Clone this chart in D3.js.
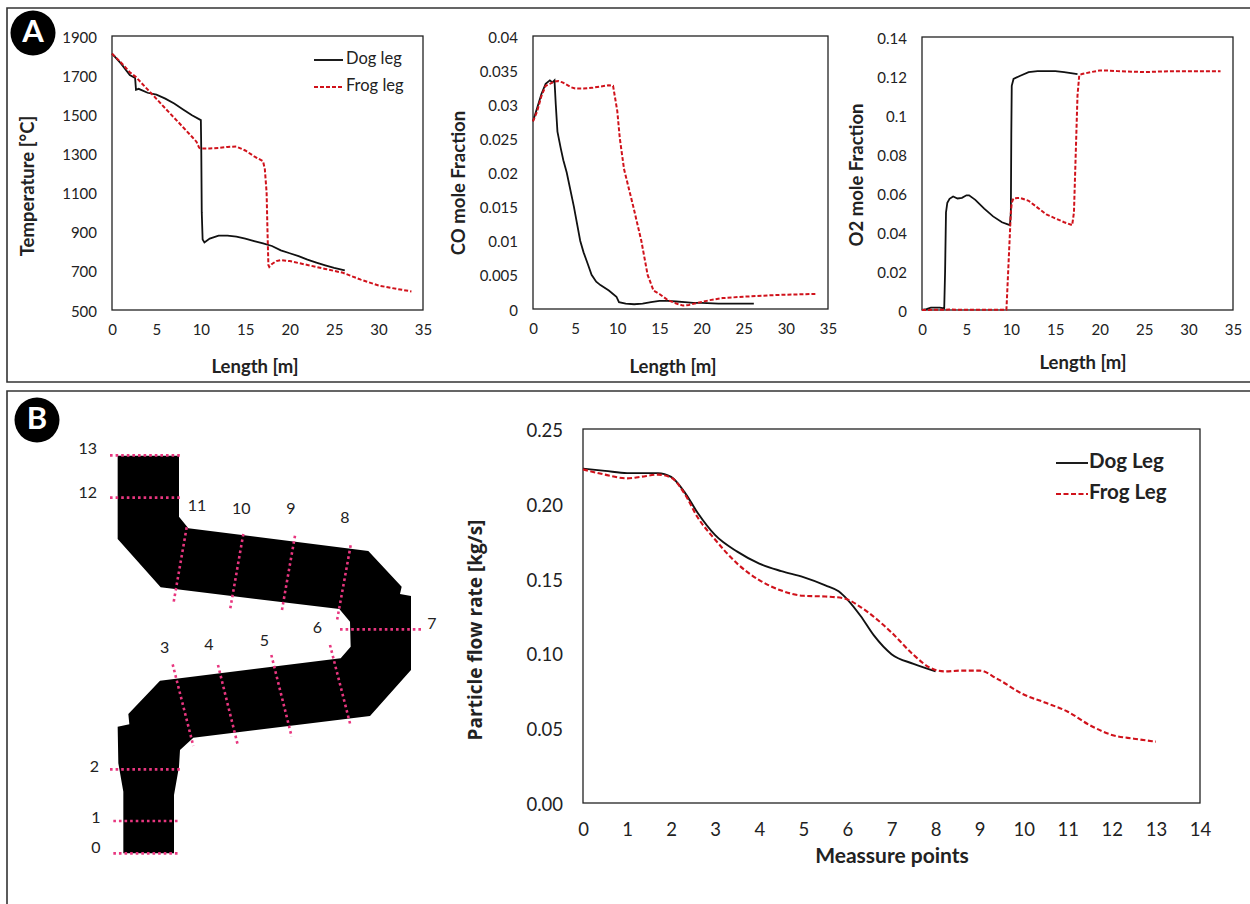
<!DOCTYPE html>
<html><head><meta charset="utf-8">
<script src="https://cdn.jsdelivr.net/npm/d3@7"></script>
<style>html,body{margin:0;padding:0;background:#fff}svg{display:block}text{font-family:Lato,sans-serif;fill:#222}</style>
</head><body><div id="c"></div>
<script>
// ---------- data ----------
const tempDog=[[0,1810],[1,1760],[2,1700],[2.6,1685],[2.7,1625],[3,1630],[4,1610],[5,1600],[6,1580],[7,1555],[8,1525],[9,1495],[10,1470],[10.05,1300],[10.1,1000],[10.2,860],[10.4,845],[11,865],[12,880],[13,880],[14,875],[15,865],[16,852],[17,840],[18,827],[19,805],[20,790],[21,775],[22,757],[23,742],[24,728],[25,715],[26.2,703]];
const tempFrog=[[0,1810],[1,1765],[2,1715],[2.7,1690],[4,1627],[5,1579],[6,1530],[7,1482],[8,1434],[9,1385],[9.5,1360],[9.8,1330],[10,1325],[11,1325],[12,1328],[13,1333],[14,1335],[15,1315],[16,1285],[17,1260],[17.2,1220],[17.4,1100],[17.5,900],[17.6,730],[17.7,720],[18,735],[18.5,750],[19,755],[20,750],[22,730],[24,710],[26,690],[28,655],[30,625],[32,608],[33.7,595]];
const coDog=[[0,.0275],[.5,.0295],[1,.0315],[1.5,.033],[2,.0335],[2.3,.0332],[2.55,.0335],[2.7,.03],[2.9,.026],[3.3,.0235],[3.6,.0218],[4,.02],[4.85,.015],[5.6,.01],[6,.0083],[6.5,.0066],[6.95,.005],[7.5,.004],[8,.0035],[9,.0027],[9.9,.0018],[10.2,.001],[11,.0008],[12,.0007],[13,.0008],[14,.001],[15,.0012],[16,.0012],[17,.0011],[18,.001],[19,.0009],[20,.0009],[22,.0008],[24,.0008],[26.2,.0008]];
const coFrog=[[0,.0275],[.5,.029],[1,.0312],[1.5,.0327],[2,.033],[2.5,.0333],[3,.0334],[3.5,.0332],[4.5,.0325],[5,.0323],[6,.0323],[7,.0324],[8,.0326],[9,.0328],[9.5,.0327],[10,.029],[10.3,.025],[10.8,.0205],[11.9,.015],[12.85,.01],[13.6,.005],[14.3,.0027],[15,.0022],[16,.0013],[17,.0008],[17.8,.0005],[18.5,.0006],[19.5,.0009],[21,.0013],[22.5,.0016],[25,.0018],[28,.002],[30,.0021],[33.5,.0022]];
const o2Dog=[[0,0],[.5,.0005],[1,.0012],[2,.0012],[2.5,.0008],[2.6,.02],[2.7,.05],[2.85,.055],[3.1,.057],[3.5,.0582],[4,.0572],[4.5,.0575],[5,.0588],[5.3,.0588],[6,.0565],[7,.052],[8,.048],[9,.045],[9.9,.0435],[10,.05],[10.05,.09],[10.1,.115],[10.3,.1185],[11,.12],[12,.122],[13,.1225],[15,.1225],[16,.122],[17.5,.121]];
const o2Frog=[[0,0],[3,.0002],[9.5,.0001],[9.6,.01],[9.8,.03],[10,.05],[10.1,.055],[10.3,.0573],[11,.0575],[12,.056],[13,.0525],[14,.049],[15,.047],[16,.045],[16.9,.0435],[17.1,.05],[17.3,.08],[17.5,.11],[17.7,.1205],[18,.121],[19,.122],[20,.1228],[21,.1228],[22,.1225],[25,.122],[28,.1225],[33.6,.1225]];
const flowDog=[[0,.2235],[.5,.222],[1,.2205],[1.7,.2205],[2,.218],[2.3,.208],[2.6,.194],[3,.179],[3.5,.168],[4,.16],[4.5,.155],[5,.151],[5.5,.1455],[5.8,.1415],[6,.136],[6.3,.125],[6.6,.112],[7,.0995],[7.5,.093],[8,.088]];
const flowFrog=[[0,.223],[.5,.2195],[1,.217],[1.3,.218],[1.7,.2195],[2,.2175],[2.3,.207],[2.6,.191],[3,.176],[3.5,.16],[4,.149],[4.5,.142],[5,.1385],[5.5,.138],[5.9,.137],[6.3,.131],[6.7,.122],[7,.114],[7.5,.099],[7.9,.09],[8.2,.088],[8.6,.0885],[9,.0885],[9.4,.083],[10,.0725],[10.5,.067],[11,.061],[11.5,.052],[12,.0455],[12.5,.043],[13,.041]];
const lengthTicks=[0,5,10,15,20,25,30,35];
const tempTicks=[500,700,900,1100,1300,1500,1700,1900];
const coTicks=[0,.005,.01,.015,.02,.025,.03,.035,.04];
const o2Ticks=[0,.02,.04,.06,.08,.1,.12,.14];
const flowTicks=[0,.05,.1,.15,.2,.25];
const pointTicks=d3.range(0,15);
const ductOutline=[[353,197],[537,197],[537,380],[565,415],[1105,483],[1205,590],[1200,612],[1233,618],[1233,840],[1110,978],[580,1043],[540,1080],[537,1130],[522,1215],[522,1390],[370,1390],[370,1205],[355,1120],[353,1010],[388,1003],[385,972],[480,872],[1022,805],[1052,770],[1050,695],[1018,657],[482,592],[353,447]];
const sectionLines=[[340,1390,540,1390],[340,1293,540,1293],[330,1138,545,1138],[518,823,580,1068],[654,825,714,1068],[814,795,875,1040],[990,765,1052,1008],[1020,718,1270,718],[1052,466,1010,697],[885,437,845,665],[730,432,690,660],[560,412,520,642],[330,323,545,323],[330,196,545,196]];
const sectionLabels=[["0",288,1377],["1",288,1286],["2",283,1134],["3",494,778],["4",627,767],["5",793,755],["6",952,716],["7",1296,705],["8",1035,388],["9",873,359],["10",724,359],["11",591,351],["12",263,313],["13",263,180]];

// ---------- drawing ----------
const RED="#d0121b",BLK="#111";
const svg=d3.select("#c").append("svg").attr("width",1250).attr("height",904);
svg.append("path").attr("d","M1250,8H7V382H1250").attr("fill","none").attr("stroke","#333").attr("stroke-width",1.6);
svg.append("path").attr("d","M1250,391H7V904").attr("fill","none").attr("stroke","#333").attr("stroke-width",1.6);
[["A",33,33],["B",37,420]].forEach(([t,x,y])=>{
  svg.append("circle").attr("cx",x).attr("cy",y).attr("r",22.5).attr("fill","#000");
  svg.append("text").attr("x",x).attr("y",y+1).attr("text-anchor","middle").attr("dominant-baseline","middle")
    .attr("font-size",31).attr("font-weight",700).style("fill","#fff").text(t);
});

function panel(o){
  const x=d3.scaleLinear().domain(o.xd).range([o.l,o.r]);
  const y=d3.scaleLinear().domain(o.yd).range([o.b,o.t]);
  const g=svg.append("g");
  g.append("rect").attr("x",o.l).attr("y",o.t).attr("width",o.r-o.l).attr("height",o.b-o.t)
    .attr("fill","none").attr("stroke","#222").attr("stroke-width",1.3);
  const ax=g.append("g").attr("transform",`translate(0,${o.b})`)
    .call(d3.axisBottom(x).tickValues(o.xt).tickSize(0).tickPadding(o.xp).tickFormat(d3.format("d")));
  const ay=g.append("g").attr("transform",`translate(${o.l},0)`)
    .call(d3.axisLeft(y).tickValues(o.yt).tickSize(0).tickPadding(o.yp).tickFormat(o.yf));
  [ax,ay].forEach(a=>{a.select(".domain").remove();a.selectAll("text").attr("font-size",o.fs).style("font-family","Lato,sans-serif");});
  ay.selectAll("text").attr("dy","0.4em");
  const line=d3.line().x(d=>x(d[0])).y(d=>y(d[1])).curve(o.curve||d3.curveLinear);
  g.append("path").datum(o.dog).attr("d",line).attr("fill","none").attr("stroke",BLK).attr("stroke-width",o.lw);
  g.append("path").datum(o.frog).attr("d",line).attr("fill","none").attr("stroke",RED).attr("stroke-width",o.lw+.2).attr("stroke-dasharray",o.dash);
  const title=(t,px,py,rot,fs,ff)=>svg.append("text").attr("transform",`translate(${px},${py})${rot?" rotate(-90)":""}`)
    .attr("text-anchor","middle").attr("dominant-baseline","middle").attr("font-size",fs).attr("font-weight",700).style("font-family",ff||null).text(t);
  title(o.xl[0],o.xl[1],o.xl[2],false,o.xfs);
  title(o.yl[0],o.yl[1],o.yl[2],true,o.yfs,o.yff);
}
const plain=d=>String(+d.toFixed(3));
const aStyle={fs:15,xp:14,yp:15,lw:1.8,dash:"4,2",xfs:18.5,yfs:18.5};
panel({...aStyle,l:112,r:423,t:36,b:310,xd:[0,35],yd:[500,1900],xt:lengthTicks,yt:tempTicks,yf:d3.format("d"),dog:tempDog,frog:tempFrog,xl:["Length [m]",255,368],yl:["Temperature [°C]",29,186]});
panel({...aStyle,l:533,r:828,t:36,b:309,xd:[0,35],yd:[0,.04],xt:lengthTicks,yt:coTicks,yf:plain,dog:coDog,frog:coFrog,xl:["Length [m]",673,368],yl:["CO mole Fraction",460,183]});
panel({...aStyle,l:922,r:1233,t:37,b:310,xd:[0,35],yd:[0,.14],xt:lengthTicks,yt:o2Ticks,yf:plain,dog:o2Dog,frog:o2Frog,xl:["Length [m]",1083,364],yl:["O2 mole Fraction",858,175]});
panel({l:583,r:1200,t:429,b:803,xd:[0,14],yd:[0,.25],xt:pointTicks,yt:flowTicks,yf:d3.format(".2f"),dog:flowDog,frog:flowFrog,curve:d3.curveMonotoneX,fs:18.5,xp:20,yp:20,lw:1.9,dash:"5,2.5",xfs:21,yfs:19,yff:"Open Sans",xl:["Meassure points",892,858],yl:["Particle flow rate [kg/s]",477,630]});

function legend(items,x1,x2,tx,fs,dash,w){
  items.forEach(([t,c,yy,d])=>{
    svg.append("line").attr("x1",x1).attr("x2",x2).attr("y1",yy).attr("y2",yy).attr("stroke",c).attr("stroke-width",1.9).attr("stroke-dasharray",d?dash:null);
    svg.append("text").attr("x",tx).attr("y",yy).attr("dominant-baseline","middle").attr("font-size",fs).attr("font-weight",w).text(t);
  });
}
legend([["Dog leg",BLK,60,false],["Frog leg",RED,87,true]],314,343,346,16.5,"4,2",400);
legend([["Dog Leg",BLK,463,false],["Frog Leg",RED,494,true]],1056,1088,1089,20.5,"5,2.5",700);

// schematic of the duct, drawn in its own coordinate system
const sx=d3.scaleLinear().domain([0,1350]).range([0,450]);
const sy=d3.scaleLinear().domain([0,1350]).range([390,840]);
svg.append("path").datum(ductOutline)
  .attr("d",d3.line().x(d=>sx(d[0])).y(d=>sy(d[1])).curve(d3.curveLinearClosed)).attr("fill","#000");
svg.selectAll("line.sec").data(sectionLines).join("line").attr("class","sec")
  .attr("x1",d=>sx(d[0])).attr("y1",d=>sy(d[1])).attr("x2",d=>sx(d[2])).attr("y2",d=>sy(d[3]))
  .attr("stroke","#e8367f").attr("stroke-width",2.6).attr("stroke-dasharray","2.6,3");
svg.selectAll("text.sec").data(sectionLabels).join("text").attr("class","sec")
  .attr("x",d=>sx(d[1])).attr("y",d=>sy(d[2])).attr("text-anchor","middle").attr("dominant-baseline","middle")
  .attr("font-size",16).text(d=>d[0]);
</script></body></html>
